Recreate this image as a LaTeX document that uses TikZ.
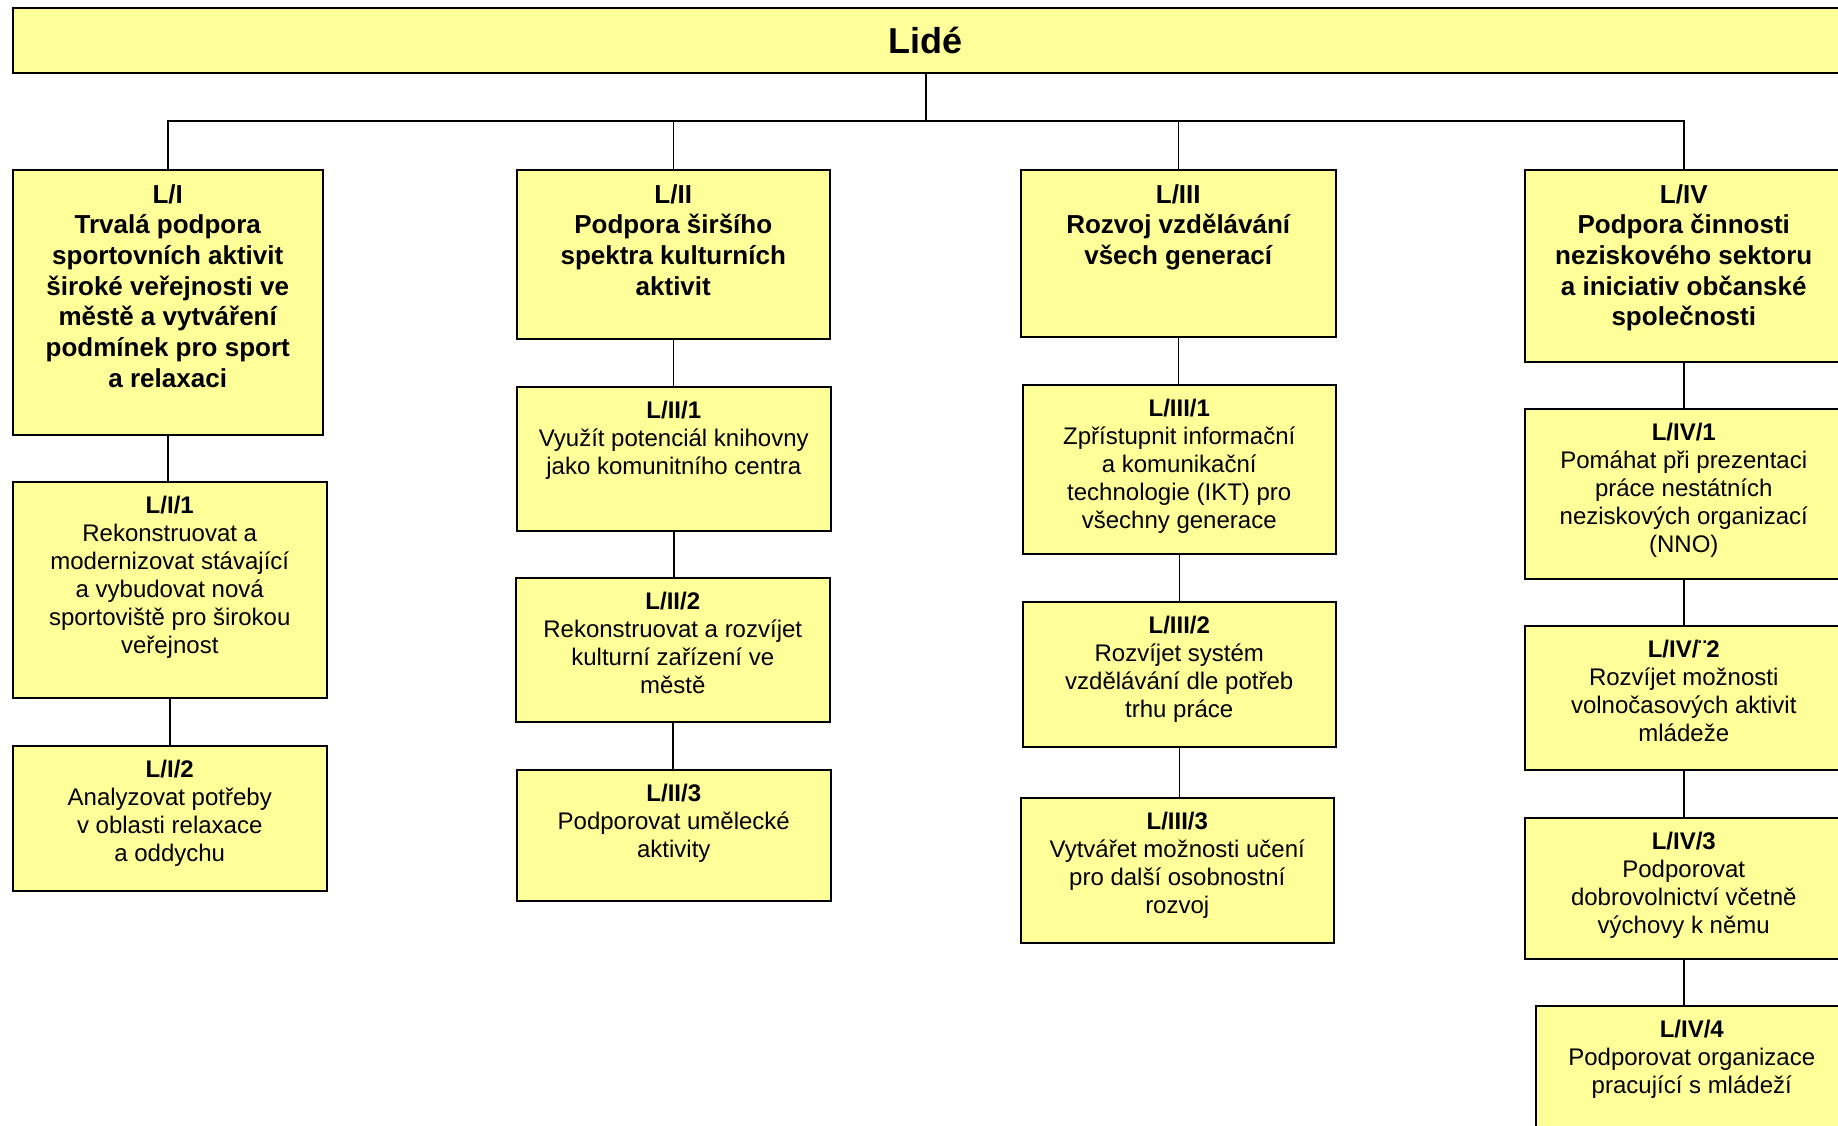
\documentclass[tikz,border=0pt]{standalone}
\usepackage{fontspec}
\setmainfont{Liberation Sans}
\usetikzlibrary{positioning}
\definecolor{boxyellow}{HTML}{FFFF99}
\tikzset{
        box/.style={draw, fill=boxyellow, line width=1.5pt, anchor=north west, inner sep=0pt},
        head/.style={align=center, inner sep=0pt, font=\fontsize{26}{30.7}\selectfont\bfseries},
        item/.style={align=center, inner sep=0pt, font=\fontsize{24}{28}\selectfont},
        link/.style={line width=1.5pt}
}

\begin{document}
\begin{tikzpicture}[x=1pt,y=-1pt]
        \useasboundingbox (0,0) rectangle (1838,1125);
        % top level
        \node[box, minimum width=1826, minimum height=65, font=\fontsize{36}{40}\selectfont\bfseries] (lide) at (12,7) {Lidé};
        \coordinate (bus) at (lide.south |- 0,121);
        % main goals
        \node[box, minimum width=310, minimum height=265] (L1) at (12,169) {};
        \node[box, minimum width=313, minimum height=169] (L2) at (516,169) {};
        \node[box, minimum width=315, minimum height=167] (L3) at (1020,169) {};
        \node[box, minimum width=318, minimum height=192] (L4) at (1524,169) {};
        \node[head, below=15pt of L1.north] (L1t) {L/I\\Trvalá podpora\\sportovních aktivit\\široké veřejnosti ve\\městě a vytváření\\podmínek pro sport\\a relaxaci};
        \node[head, below=15pt of L2.north] (L2t) {L/II\\Podpora širšího\\spektra kulturních\\aktivit};
        \node[head, below=15pt of L3.north] (L3t) {L/III\\Rozvoj vzdělávání\\všech generací};
        \node[head, below=15pt of L4.north] (L4t) {L/IV\\Podpora činnosti\\neziskového sektoru\\a iniciativ občanské\\společnosti};
        % measures
        \node[box, minimum width=314, minimum height=216] (L11) at (12,481) {};
        \node[box, minimum width=314, minimum height=145] (L12) at (12,745) {};
        \node[box, minimum width=314, minimum height=144] (L21) at (516,386) {};
        \node[box, minimum width=314, minimum height=144] (L22) at (515,577) {};
        \node[box, minimum width=314, minimum height=131] (L23) at (516,769) {};
        \node[box, minimum width=313, minimum height=169] (L31) at (1022,384) {};
        \node[box, minimum width=313, minimum height=145] (L32) at (1022,601) {};
        \node[box, minimum width=313, minimum height=145] (L33) at (1020,797) {};
        \node[box, minimum width=318, minimum height=170] (L41) at (1524,408) {};
        \node[box, minimum width=318, minimum height=144] (L42) at (1524,625) {};
        \node[box, minimum width=318, minimum height=141] (L43) at (1524,817) {};
        \node[box, minimum width=312, minimum height=140] (L44) at (1535,1005) {};
        \node[item, below=15pt of L11.north] (L11t) {\textbf{L/I/1}\\Rekonstruovat a\\modernizovat stávající\\a vybudovat nová\\sportoviště pro širokou\\veřejnost};
        \node[item, below=15pt of L12.north] (L12t) {\textbf{L/I/2}\\Analyzovat potřeby\\v oblasti relaxace\\a oddychu};
        \node[item, below=15pt of L21.north] (L21t) {\textbf{L/II/1}\\Využít potenciál knihovny\\jako komunitního centra};
        \node[item, below=15pt of L22.north] (L22t) {\textbf{L/II/2}\\Rekonstruovat a rozvíjet\\kulturní zařízení ve\\městě};
        \node[item, below=15pt of L23.north] (L23t) {\textbf{L/II/3}\\Podporovat umělecké\\aktivity};
        \node[item, below=15pt of L31.north] (L31t) {\textbf{L/III/1}\\Zpřístupnit informační\\a komunikační\\technologie (IKT) pro\\všechny generace};
        \node[item, below=15pt of L32.north] (L32t) {\textbf{L/III/2}\\Rozvíjet systém\\vzdělávání dle potřeb\\trhu práce};
        \node[item, below=15pt of L33.north] (L33t) {\textbf{L/III/3}\\Vytvářet možnosti učení\\pro další osobnostní\\rozvoj};
        \node[item, below=15pt of L41.north] (L41t) {\textbf{L/IV/1}\\Pomáhat při prezentaci\\práce nestátních\\neziskových organizací\\(NNO)};
        \node[item, below=15pt of L42.north] (L42t) {\textbf{L/IV/¨2}\\Rozvíjet možnosti\\volnočasových aktivit\\mládeže};
        \node[item, below=15pt of L43.north] (L43t) {\textbf{L/IV/3}\\Podporovat\\dobrovolnictví včetně\\výchovy k němu};
        \node[item, below=15pt of L44.north] (L44t) {\textbf{L/IV/4}\\Podporovat organizace\\pracující s mládeží};
        % connectors
        \draw[link] (lide.south) -- (bus);
        \foreach \n in {L1,L2,L3,L4}
                \draw[link] (\n.north) |- (bus);
        \foreach \a/\b in {L1/L11,L11/L12,L2/L21,L21/L22,L22/L23,L3/L31,L31/L32,L32/L33,L4/L41,L41/L42,L42/L43,L43/L44}
                \draw[link] (\a.south) -- (\a.south |- \b.north);
\end{tikzpicture}
\end{document}
